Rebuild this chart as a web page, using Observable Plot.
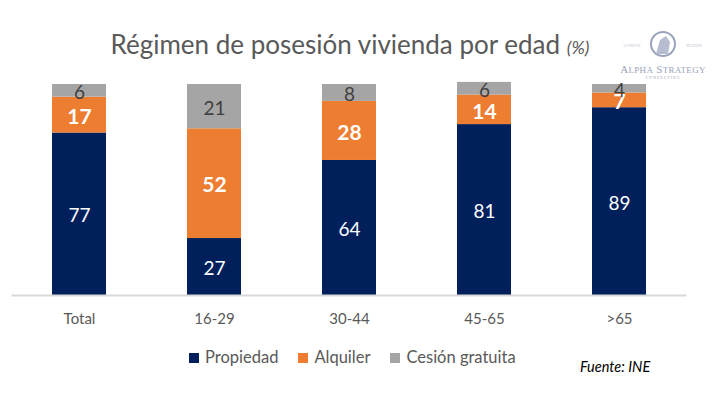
<!DOCTYPE html>
<html><head><meta charset="utf-8">
<script src="https://cdn.jsdelivr.net/npm/d3@7"></script>
<script src="https://cdn.jsdelivr.net/npm/@observablehq/plot@0.6"></script>
<style>
body{margin:0;background:#fff;font-family:Lato,"Open Sans",sans-serif;}
#wrap{position:relative;width:720px;height:394px;overflow:hidden;}
#chart{position:absolute;left:0;top:0;}
.title{position:absolute;top:28px;left:0;width:700px;text-align:center;font-size:26px;color:#595959;white-space:nowrap;}
.title i{font-size:18px;}
.legend{position:absolute;top:347px;left:189px;font-size:16.5px;color:#595959;white-space:nowrap;}
.legend span{display:inline-block;margin-right:20px;}
.legend b{display:inline-block;width:10px;height:10px;margin-right:6px;vertical-align:0px;}
.src{position:absolute;top:358px;left:580px;font-size:14.5px;font-style:italic;color:#000;}
.logo{position:absolute;left:618px;top:30px;width:90px;text-align:center;color:#9aa3bb;font-family:"Liberation Serif",serif;}
</style></head>
<body><div id="wrap">
<div id="chart"></div>
<div class="title">Régimen de posesión vivienda por edad <i>(%)</i></div>
<div class="legend"></div>
<div class="src">Fuente: INE</div>
<div class="logo">
<svg width="90" height="30" style="display:block;margin:0 auto"><circle cx="45" cy="14" r="12" fill="none" stroke="#9aa3bb" stroke-width="2"/><path d="M38 24 L42 10 L48 6 L52 12 L50 24 Z" fill="#b7bdd0"/><text x="14" y="17" font-size="4" fill="#c3c8d6" text-anchor="middle">LONDON</text><text x="76" y="17" font-size="4" fill="#c3c8d6" text-anchor="middle">MADRID</text></svg>
<div style="font-size:11px;letter-spacing:0.3px;margin-top:3px;">A<span style="font-size:9px">LPHA</span> S<span style="font-size:9px">TRATEGY</span></div>
<div style="font-size:4px;letter-spacing:1px;">CONSULTING</div>
</div>
</div>
<script>
const categories = ["Total","16-29","30-44","45-65",">65"];
const series = ["Propiedad","Alquiler","Cesión gratuita"];
const propiedad = [77,27,64,81,89];
const alquiler = [17,52,28,14,7];
const cesion = [6,21,8,6,4];
const colors = ["#001f5b","#ed7d31","#a5a5a5"];

const vals = [propiedad, alquiler, cesion];
const data = [];
categories.forEach((c,ci)=>{
  let acc = 0;
  series.forEach((s,si)=>{
    const v = vals[si][ci];
    data.push({cat:c, serie:s, value:v, mid:acc + v/2});
    acc += v;
  });
});

const labelStyle = {
  "Propiedad": {fill:"#fff", fontWeight:"normal", fontSize:19},
  "Alquiler": {fill:"#fff", fontWeight:"bold", fontSize:21},
  "Cesión gratuita": {fill:"#404040", fontWeight:"normal", fontSize:19}
};

const plot = Plot.plot({
  width:720, height:394,
  marginTop:84, marginBottom:99, marginLeft:11.5, marginRight:33.5,
  style:{fontFamily:"Lato, 'Open Sans', sans-serif", background:"transparent"},
  x:{domain:categories, paddingInner:0.6, paddingOuter:0.3, label:null, tickSize:0, tickPadding:18},
  y:{domain:[0,100], axis:null},
  color:{domain:series, range:colors},
  marks:[
    Plot.barY(data, {x:"cat", y:"value", fill:"serie", order:series}),
    Plot.ruleY([0], {stroke:"#d9d9d9", strokeWidth:2}),
    ...series.map(s => Plot.text(data.filter(d=>d.serie===s), {
      x:"cat", y:"mid", text:"value", dy:2,
      fill:labelStyle[s].fill, fontWeight:labelStyle[s].fontWeight, fontSize:labelStyle[s].fontSize
    }))
  ]
});
document.getElementById("chart").append(plot);
d3.select(plot).selectAll("g[aria-label='x-axis tick label'] text").attr("font-size",15).attr("fill","#595959");

const lg = d3.select(".legend");
series.forEach((s,i)=>{const sp=lg.append("span"); sp.append("b").style("background",colors[i]); sp.append("text").text(s);});
</script>
</body></html>
